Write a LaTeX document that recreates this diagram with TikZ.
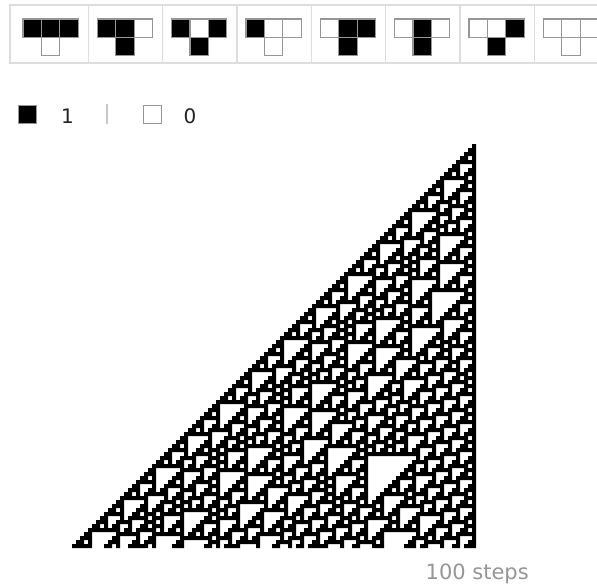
\documentclass[tikz,border=0pt]{standalone}
\usepackage{fontspec}
\setmainfont{DejaVu Sans}
\definecolor{framegray}{RGB}{221,221,221}
\definecolor{cellgray}{RGB}{150,150,150}
\definecolor{bargray}{RGB}{200,200,200}
\definecolor{labelgray}{RGB}{150,150,150}
\definecolor{digitdark}{RGB}{34,34,34}
\makeatletter
% rule 110 lookup: index = 4*left + 2*center + right
\def\ruleval#1#2#3{\ifcase\numexpr#1*4+#2*2+#3\relax 0\or1\or1\or1\or0\or1\or1\or0\fi}
\let\stopmark\relax
\def\nxB#1#2#3{\ifx#3\stopmark\else\ruleval#1#2#3\expandafter\nxB\expandafter#2\expandafter#3\fi}
\newcount\tmpc \newcount\colc \newcount\runstart \newcount\rowc
% initial row: pad, 100 zeros, one black cell, pad
\def\row{0}\tmpc=0
\loop \edef\row{\row0}\advance\tmpc by 1 \ifnum\tmpc<100 \repeat
\edef\row{\row10}
\def\runpath{}
\def\emitrun{\xdef\runpath{\runpath (\the\numexpr72+4*\runstart\relax,\the\numexpr144+4*\rowc\relax) rectangle (\the\numexpr72+4*\colc\relax,\the\numexpr148+4*\rowc\relax)}\runstart=-1 }
\def\scanrow#1{%
  \ifx#1\stopmark
  \else
    \ifnum#1=1 \ifnum\runstart<0 \runstart=\colc\fi
    \else \ifnum\runstart>-1 \emitrun\fi
    \fi
    \advance\colc by 1\relax
    \expandafter\scanrow
  \fi}
\rowc=0
\loop
  \colc=-1 \runstart=-1
  \expandafter\scanrow\row\stopmark
  \edef\row{0\expandafter\nxB\row\stopmark 0}%
  \advance\rowc by 1
\ifnum\rowc<101 \repeat
\makeatother
\tikzset{
  cell1/.style={fill=black, draw=cellgray, line width=1.2pt},
  cell0/.style={fill=white, draw=cellgray, line width=1.2pt},
  frameline/.style={draw=framegray, line width=1.3pt},
  digit/.style={font=\fontsize{20}{24}\selectfont, text=digitdark, inner sep=0pt},
  stepslabel/.style={font=\fontsize{21}{25}\selectfont, text=labelgray, inner sep=0pt}
}
\begin{document}
\begin{tikzpicture}[x=1pt,y=-1pt]
\useasboundingbox (0,0) rectangle (597,587);
\begin{scope}
\clip (0,0) rectangle (597,587);
\draw[frameline] (10,5) rectangle (620,63);
\foreach \k in {0,...,6} \draw[frameline] (88.3+74.33*\k,5) -- (88.3+74.33*\k,63);
\foreach \k/\a/\b/\c/\o in {0/1/1/1/0, 1/1/1/0/1, 2/1/0/1/1, 3/1/0/0/0, 4/0/1/1/1, 5/0/1/0/1, 6/0/0/1/1, 7/0/0/0/0}{
  \draw[cell\a] (23+74.33*\k,19) rectangle ++(18.4,18.4);
  \draw[cell\b] (41.4+74.33*\k,19) rectangle ++(18.4,18.4);
  \draw[cell\c] (59.8+74.33*\k,19) rectangle ++(18.4,18.4);
  \draw[cell\o] (41.4+74.33*\k,37.4) rectangle ++(18.4,18.4);
}
\end{scope}
% legend
\draw[cell1] (18.5,105.5) rectangle (36.5,123.5);
\node[digit, anchor=base] (one) at (67.5,123) {1};
\draw[bargray, line width=1.5pt] (107,104) -- (107,124);
\draw[cell0] (143.5,105.5) rectangle (161.5,123.5);
\node[digit, anchor=base] (zero) at (190,123) {0};
% automaton
\edef\drawca{\noexpand\fill[black] \runpath;}
\drawca
\node[stepslabel, anchor=base east] (steps) at (529,579) {100 steps};
\end{tikzpicture}
\end{document}
